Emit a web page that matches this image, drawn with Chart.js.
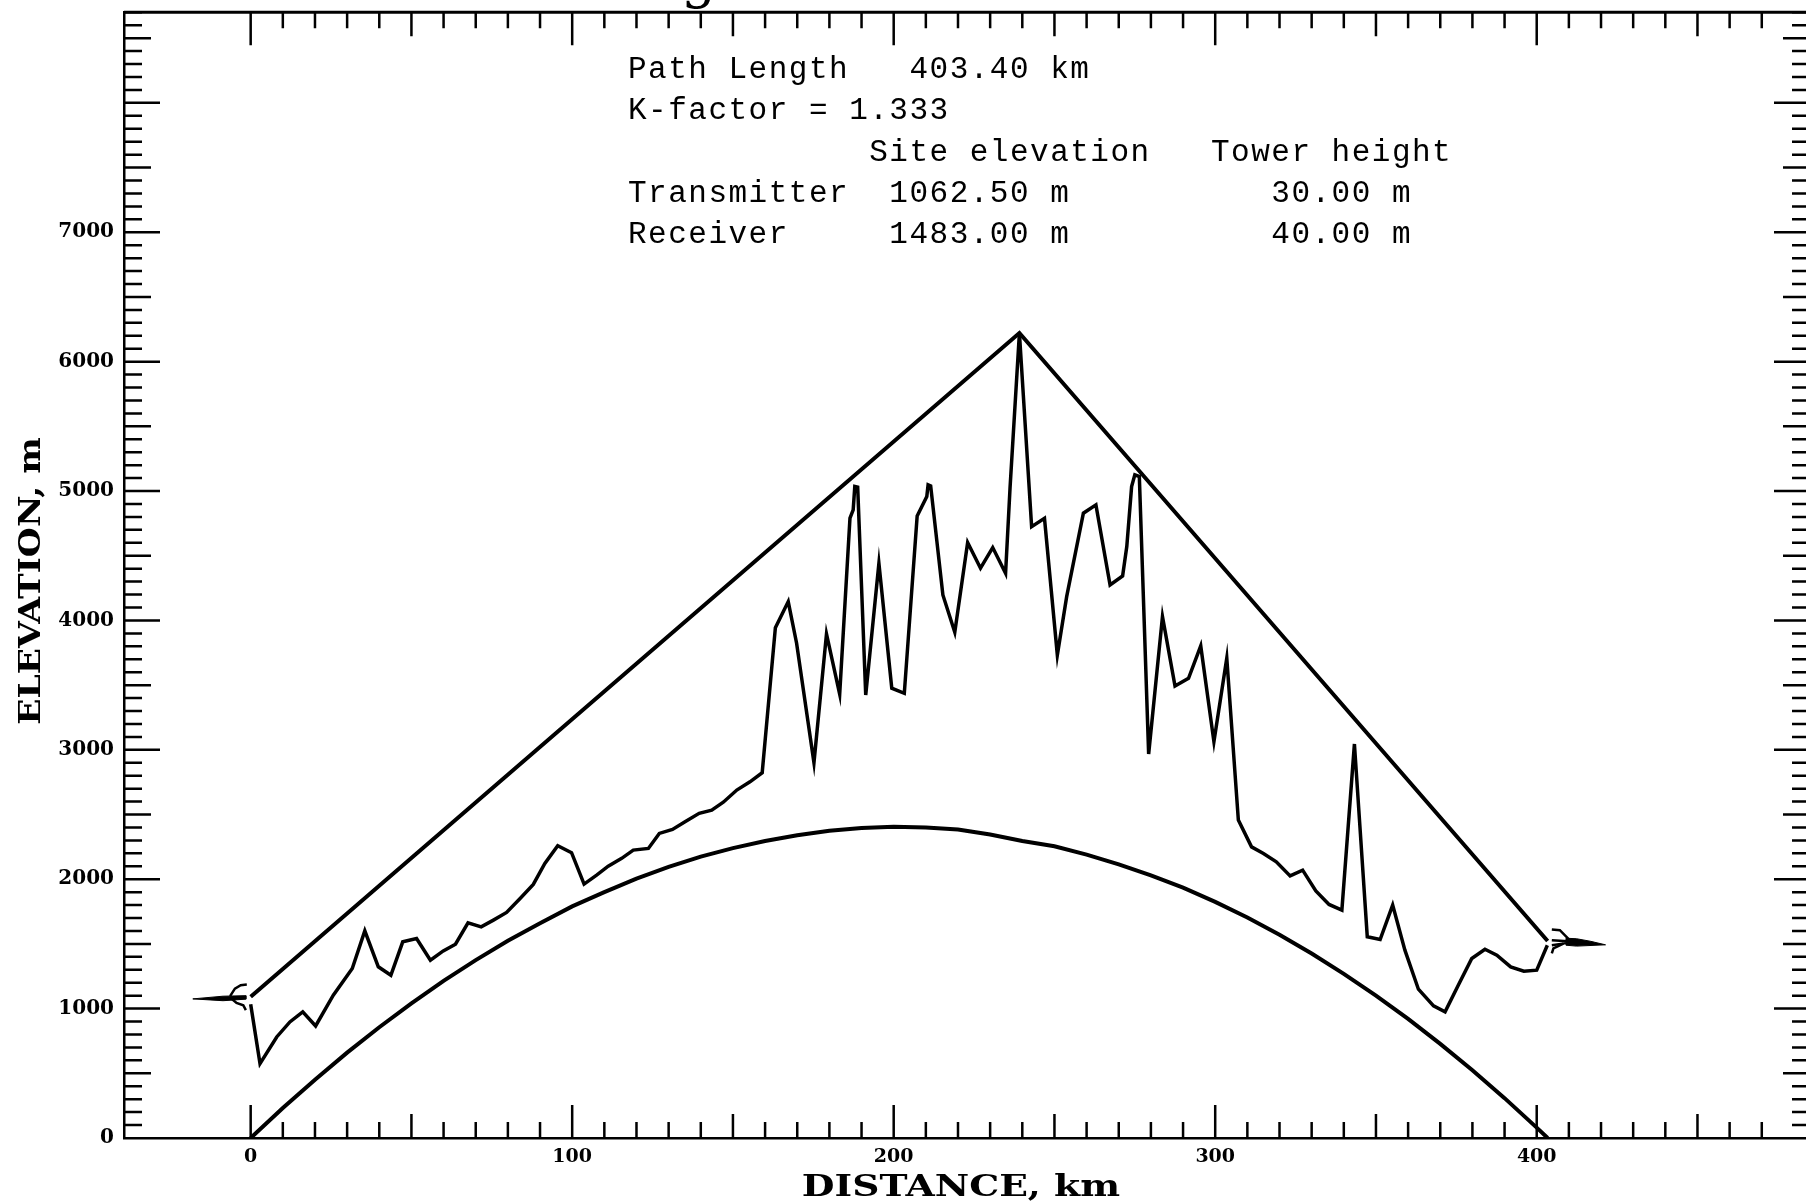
<!DOCTYPE html>
<html>
<head>
<meta charset="utf-8">
<title>Path profile</title>
<script src="https://cdn.jsdelivr.net/npm/chart.js@4/dist/chart.umd.min.js"></script>
<style>
html, body { margin: 0; padding: 0; background: #fff; overflow: hidden; width: 1806px; height: 1202px; }
canvas { display: block; }
</style>
</head>
<body>
<canvas id="profile" width="1812" height="1202"></canvas>
<script>
// terrain elevation along the path
const terrainKm = [0, 2.9, 8.1, 12.2, 16.2, 20.2, 25.7, 31.6, 35.5, 39.7, 43.6, 47.3, 51.6, 55.9, 59.9, 63.7, 67.6, 71.7, 75.5, 79.6,
  83.8, 87.9, 91.5, 95.5, 99.8, 103.7, 107.6, 111.2, 115.4, 119, 123.7, 127.1, 131.2, 135.1, 139.5, 143.4, 147, 151.2, 155.3, 159.1,
  163.2, 167.2, 169.8, 175.2, 179.1, 183.2, 186.4, 187.4, 187.9, 188.8, 191.3, 195.4, 199.4, 203.3, 207.3, 210.3, 210.7, 211.5, 215.3, 219, 223, 227,
  230.8, 234.8, 236.2, 239.1, 242.9, 246.9, 250.9, 253.8, 259, 262.9, 267.3, 271.2, 272.5, 274, 275, 276.4, 279.3, 283.6, 287.5, 291.7,
  295.5, 299.6, 303.6, 307.2, 311.3, 315, 319, 323.3, 327.2, 331.3, 335.4, 339.4, 343.3, 347.3, 351.3, 355.2, 359, 363.2, 367.9, 371.5,
  375.6, 379.8, 383.9, 387.6, 391.9, 396, 400, 403.3];
const terrainM = [1034, 575, 781, 897, 975, 866, 1104, 1310, 1601, 1323, 1258, 1516, 1542, 1374, 1446, 1498, 1663, 1632, 1684, 1743,
  1851, 1960, 2122, 2259, 2205, 1962, 2032, 2101, 2161, 2225, 2238, 2354, 2385, 2444, 2509, 2534, 2595, 2689, 2753, 2823,
  3944, 4146, 3824, 2900, 3896, 3430, 4790, 4855, 5035, 5030, 3424, 4442, 3476, 3437, 4808, 4958, 5048, 5040, 4197, 3909, 4602, 4404,
  4563, 4365, 5030, 6221, 4725, 4790, 3733, 4184, 4829, 4893, 4274, 4344, 4571, 5035, 5125, 5112, 2968, 4029, 3493, 3553,
  3803, 3063, 3708, 2457, 2250, 2199, 2135, 2026, 2070, 1910, 1805, 1761, 3045, 1555, 1534, 1800, 1452, 1150, 1021, 975,
  1181, 1387, 1459, 1413, 1322, 1289, 1297, 1490];

// earth bulge curve
const earthKm = [0, 10, 20, 30, 40, 50, 60, 70, 80, 90, 100, 110, 120, 130, 140, 150, 160, 170, 180, 190, 200,
  210, 220, 230, 240, 250, 260, 270, 280, 290, 300, 310, 320, 330, 340, 350, 360, 370, 380, 390, 400, 403.4];
const earthM = [0, 232, 451, 660, 856, 1040, 1215, 1375, 1525, 1660, 1790, 1900, 2005, 2095, 2175, 2240, 2295, 2340, 2375, 2395, 2405,
  2400, 2385, 2345, 2295, 2255, 2190, 2115, 2030, 1935, 1825, 1704, 1571, 1426, 1269, 1100, 920, 727, 523, 308, 80, 0];

// ray between the two towers
const rayKm = [0, 239.1, 403.4];
const rayM = [1092, 6221, 1523];

// antenna glyphs, transmitter side
const txWedgeKm = [-18, -8.6, -1.5, -1.5, -8.6, -18];
const txWedgeM = [1075, 1096, 1100, 1073, 1061, 1075];
const txTopKm = [-6.4, -4.9, -3.1, -1.2];
const txTopM = [1096, 1155, 1181, 1186];
const txLowKm = [-6.4, -4.4, -2.3, -1.5];
const txLowM = [1086, 1044, 1026, 988];

// antenna glyphs, receiver side
const rxWedgeKm = [409.1, 412.4, 416.6, 421.4, 412.4, 409.1, 409.1];
const rxWedgeM = [1544, 1540, 1521, 1493, 1483, 1490, 1544];
const rxTopKm = [404.7, 407.2, 410.1];
const rxTopM = [1612, 1606, 1534];
const rxLowKm = [404.7, 405.2, 408.3];
const rxLowM = [1426, 1465, 1503];
const rxProng1Km = [404.7, 409.7];
const rxProng1M = [1529, 1521];
const rxProng2Km = [404.7, 409.1];
const rxProng2M = [1490, 1506];

const xTickLabels = [0, 100, 200, 300, 400];
const yTickLabels = [0, 1000, 2000, 3000, 4000, 5000, 6000, 7000];
const xAxisTitle = 'DISTANCE, km';
const yAxisTitle = 'ELEVATION, m';

const infoLines = [
  'Path Length   403.40 km',
  'K-factor = 1.333',
  '            Site elevation   Tower height',
  'Transmitter  1062.50 m          30.00 m',
  'Receiver     1483.00 m          40.00 m'
];

function pts(xs, ys) {
  return xs.map((x, i) => ({ x: x, y: ys[i] }));
}

function line(xs, ys, width) {
  return { data: pts(xs, ys), borderColor: '#000', backgroundColor: '#000', borderWidth: width, pointRadius: 0, tension: 0, fill: false };
}

// ticks point inward and come in three lengths, chart.js can only do one
const frameTicks = {
  id: 'frameTicks',
  afterDraw(chart) {
    const c = chart.ctx, a = chart.chartArea, xs = chart.scales.x, ys = chart.scales.y;
    c.save();
    c.strokeStyle = '#000';
    c.lineWidth = 3;
    c.beginPath();
    c.moveTo(a.left, a.top);
    c.lineTo(a.right, a.top);
    c.stroke();
    c.lineWidth = 2.5;
    xs.ticks.forEach(t => {
      if (t.value < 0 || t.value % 10 !== 0) return;
      const len = t.value % 100 === 0 ? 33 : t.value % 50 === 0 ? 24 : 16;
      const px = xs.getPixelForValue(t.value);
      c.beginPath();
      c.moveTo(px, a.bottom); c.lineTo(px, a.bottom - len);
      c.moveTo(px, a.top); c.lineTo(px, a.top + len);
      c.stroke();
    });
    ys.ticks.forEach(t => {
      if (t.value === 0 || t.value % 100 !== 0) return;
      const len = t.value % 1000 === 0 ? 36 : t.value % 500 === 0 ? 27 : 18;
      const py = ys.getPixelForValue(t.value);
      c.beginPath();
      c.moveTo(a.left, py); c.lineTo(a.left + len, py);
      c.moveTo(a.right, py); c.lineTo(a.right - len, py);
      c.stroke();
    });
    c.restore();
  }
};

const infoText = {
  id: 'infoText',
  afterDraw(chart) {
    const c = chart.ctx;
    c.save();
    c.fillStyle = '#000';
    c.textBaseline = 'alphabetic';
    c.font = '31px "Liberation Mono"';
    c.letterSpacing = '1.5px';
    infoLines.forEach((s, i) => c.fillText(s, 628, 78 + i * 41.3));
    c.letterSpacing = '0px';
    // bottom of the title, the rest is cut off by the page edge
    c.font = '56px "DejaVu Serif"';
    c.fillText('g', 681, -3);
    // axis titles, the scan has them much wider than any installed font
    c.font = 'bold 29px "DejaVu Serif"';
    c.textAlign = 'center';
    c.save();
    c.translate(961, 1196);
    c.scale(1.3, 1);
    c.fillText(xAxisTitle, 0, 0);
    c.restore();
    c.save();
    c.translate(40, 581);
    c.rotate(-Math.PI / 2);
    c.scale(1.19, 1);
    c.fillText(yAxisTitle, 0, 0);
    c.restore();
    c.restore();
  }
};

new Chart(document.getElementById('profile'), {
  type: 'line',
  data: {
    datasets: [
      line(terrainKm, terrainM, 3.5),
      line(earthKm, earthM, 4),
      line(rayKm, rayM, 4),
      Object.assign(line(txWedgeKm, txWedgeM, 1), { fill: 'shape' }),
      line(txTopKm, txTopM, 2.5),
      line(txLowKm, txLowM, 2.5),
      Object.assign(line(rxWedgeKm, rxWedgeM, 1), { fill: 'shape' }),
      line(rxTopKm, rxTopM, 2.5),
      line(rxLowKm, rxLowM, 2.5),
      line(rxProng1Km, rxProng1M, 2.5),
      line(rxProng2Km, rxProng2M, 2.5)
    ]
  },
  plugins: [frameTicks, infoText],
  options: {
    responsive: false,
    animation: false,
    layout: { padding: { top: 12.3, right: 2, bottom: 0, left: 0 } },
    plugins: { legend: { display: false }, tooltip: { enabled: false }, title: { display: false } },
    scales: {
      x: {
        type: 'linear',
        min: -39.4,
        max: 485,
        // no room kept for the empty end labels, the frame sits where it should
        afterFit: s => { s.height = 64; s.paddingLeft = 0; s.paddingRight = 0; },
        grid: { display: false, drawTicks: false },
        border: { color: '#000', width: 2.5 },
        ticks: {
          stepSize: 10,
          autoSkip: false,
          maxRotation: 0,
          padding: 8,
          color: '#000',
          font: { family: 'DejaVu Serif', weight: 'bold', size: 19 },
          callback: v => xTickLabels.includes(v) ? String(v) : ''
        }
      },
      y: {
        type: 'linear',
        min: 0,
        max: 8700,
        afterFit: s => { s.width = 124; s.paddingTop = 0; s.paddingBottom = 0; },
        grid: { display: false, drawTicks: false },
        border: { color: '#000', width: 2.5 },
        ticks: {
          stepSize: 100,
          autoSkip: false,
          padding: 10,
          color: '#000',
          font: { family: 'DejaVu Serif', weight: 'bold', size: 20 },
          callback: v => yTickLabels.includes(v) ? String(v) : ''
        }
      }
    }
  }
});
</script>
</body>
</html>
